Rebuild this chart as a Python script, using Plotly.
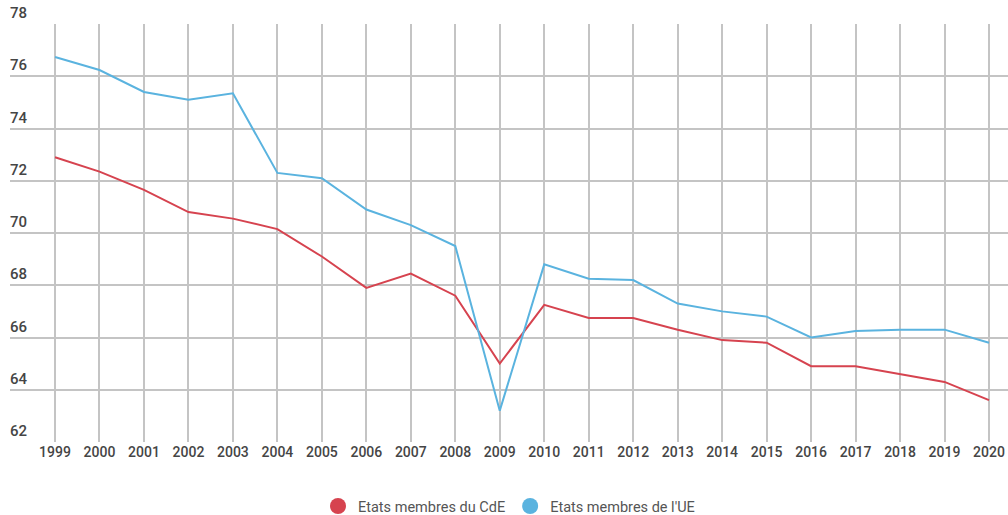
import plotly.graph_objects as go

years = list(range(1999, 2021))
cde = [72.9, 72.35, 71.65, 70.8, 70.55, 70.15, 69.1, 67.9, 68.45, 67.6, 65.0,
       67.25, 66.75, 66.75, 66.3, 65.9, 65.8, 64.9, 64.9, 64.6, 64.3, 63.6]
ue = [76.74, 76.24, 75.4, 75.1, 75.35, 72.3, 72.1, 70.9, 70.3, 69.5, 63.2,
      68.8, 68.25, 68.2, 67.3, 67.0, 66.8, 66.0, 66.25, 66.3, 66.3, 65.8]
y_ticks = [62, 64, 66, 68, 70, 72, 74, 76, 78]

RED = "#d6434f"
BLUE = "#5ab3df"
GRID = "#c4c4c4"
TXT = "#454545"
FONT = "Roboto"

fig = go.Figure()
fig.add_trace(go.Scatter(x=years, y=cde, mode="lines", line=dict(color=RED, width=2),
                         showlegend=False, name="Etats membres du CdE"))
fig.add_trace(go.Scatter(x=years, y=ue, mode="lines", line=dict(color=BLUE, width=2),
                         showlegend=False, name="Etats membres de l'UE"))
# legend entries shown as filled circles
fig.add_trace(go.Scatter(x=[None], y=[None], mode="markers",
                         marker=dict(color=RED, size=20), name="Etats membres du CdE"))
fig.add_trace(go.Scatter(x=[None], y=[None], mode="markers",
                         marker=dict(color=BLUE, size=20), name="Etats membres de l'UE"))

# y labels sit just above their gridlines at the left edge
for v in y_ticks:
    fig.add_annotation(x=0, xref="paper", y=v, yref="y", text=str(v), showarrow=False,
                       xanchor="left", yanchor="bottom", yshift=0, xshift=-2,
                       font=dict(family=FONT, size=15, color=TXT, weight=500))

fig.update_layout(
    width=1008, height=515,
    margin=dict(l=10, r=0, t=24, b=73, autoexpand=False),
    paper_bgcolor="white", plot_bgcolor="white",
    font=dict(family=FONT, color=TXT),
    legend=dict(orientation="h", x=0.5, xanchor="center", y=-0.115, yanchor="top",
                font=dict(family=FONT, size=14.5, color="#555555"),
                itemsizing="trace", itemwidth=30),
    xaxis=dict(range=[1997.988, 2020.427], tickvals=years, ticktext=[str(y) for y in years],
               showgrid=True, gridcolor=GRID, gridwidth=1.5, zeroline=False, showline=False,
               ticks="", ticklabeloverflow="allow", automargin=False,
               tickfont=dict(family=FONT, size=14, color=TXT, weight=500)),
    yaxis=dict(range=[62, 78], tickvals=y_ticks, showticklabels=False, automargin=False,
               showgrid=True, gridcolor=GRID, gridwidth=1.5, zeroline=False, showline=False,
               ticks=""),
)

fig.write_html("out.html")
